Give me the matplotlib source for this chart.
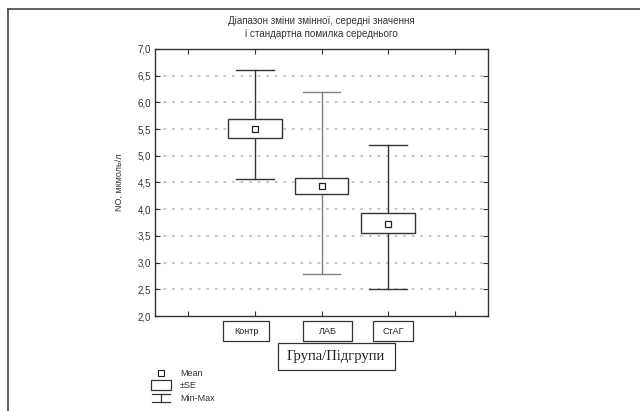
import matplotlib
matplotlib.use("Agg")
from matplotlib import pyplot as plt
from matplotlib.patches import Rectangle
from matplotlib.lines import Line2D

plt.rcParams['font.family'] = ['Liberation Sans', 'DejaVu Sans']

# дані
groups = ['Контр', 'ЛАБ', 'СтАГ']
means = [5.51, 4.44, 3.73]
se_low = [5.33, 4.29, 3.55]
se_high = [5.69, 4.59, 3.92]
mins = [4.57, 2.79, 2.51]
maxs = [6.61, 6.20, 5.20]
yticks = [2.0, 2.5, 3.0, 3.5, 4.0, 4.5, 5.0, 5.5, 6.0, 6.5, 7.0]

W, H = 640, 411
fig = plt.figure(figsize=(6.4, 4.11), dpi=100)
ax = fig.add_axes([155 / W, 1 - 316 / H, 333 / W, 267 / H])

pos = [1, 2, 3]
whisk_col = ['#333333', '#808080', '#333333']
for i, x in enumerate(pos):
    # лінія мін-макс
    ax.plot([x, x], [mins[i], maxs[i]], color=whisk_col[i], lw=1.0, zorder=3)
    ax.plot([x - 0.285, x + 0.285], [mins[i], mins[i]], color=whisk_col[i], lw=1.0, zorder=3)
    ax.plot([x - 0.285, x + 0.285], [maxs[i], maxs[i]], color=whisk_col[i], lw=1.0, zorder=3)
    # прямокутник SE
    ax.add_patch(Rectangle((x - 0.405, se_low[i]), 0.81, se_high[i] - se_low[i],
                           facecolor='white', edgecolor='#333333', lw=1.0, zorder=4))
    ax.plot(x, means[i], marker='s', ms=5, mfc='white', mec='#222222', mew=0.9, zorder=5)

for y in yticks[1:-1]:
    ax.axhline(y, color='#b8b8b8', lw=1.1, linestyle=(0, (1.8, 3.8)), zorder=1)

ax.set_xlim(-0.5, 4.5)
ax.set_ylim(2.0, 7.0)
ax.set_xticks([0, 1, 2, 3, 4])
ax.set_xticklabels([])
ax.set_yticks(yticks)
ax.set_yticklabels([('%.1f' % v).replace('.', ',') for v in yticks], fontsize=7, color='#333333')
ax.tick_params(direction='in', top=True, right=True, length=3.5, width=0.8, color='#333333', pad=3)
for s in ax.spines.values():
    s.set_color('#333333')
    s.set_linewidth(1.0)

ax.set_ylabel('NO, мкмоль/л', fontsize=6.5, color='#333333', labelpad=10)
fig.text(321 / W, 1 - 21 / H, 'Діапазон зміни змінної, середні значення',
         ha='center', va='center', fontsize=7.1, color='#333333')
fig.text(321 / W, 1 - 34 / H, 'і стандартна помилка середнього',
         ha='center', va='center', fontsize=7.1, color='#333333')

# підписи груп у рамках (ліва, права межа рамки в пікселях)
label_boxes = [(223, 269), (303, 352), (373, 413)]
for name, (x0, x1) in zip(groups, label_boxes):
    fig.add_artist(Rectangle((x0 / W, 1 - 341 / H), (x1 - x0) / W, 20 / H, transform=fig.transFigure,
                             fc='white', ec='#333333', lw=0.9))
    fig.text((x0 + x1) / 2 / W, 1 - 331 / H, name, ha='center', va='center',
             fontsize=6.5, color='#222222')

fig.add_artist(Rectangle((278 / W, 1 - 370 / H), 117 / W, 27 / H, transform=fig.transFigure,
                         fc='white', ec='#333333', lw=0.9))
fig.text(336 / W, 1 - 356 / H, 'Група/Підгрупи', ha='center', va='center',
         fontsize=10.5, family='Liberation Serif', color='#222222')

# легенда
lx = 161 / W
fig.add_artist(Line2D([lx], [1 - 373 / H], marker='s', ms=4.5, mfc='white', mec='#222222', mew=0.8,
                      transform=fig.transFigure))
fig.add_artist(Rectangle((lx - 10 / W, 1 - 390 / H), 20 / W, 10 / H, transform=fig.transFigure,
                         fc='white', ec='#333333', lw=0.9))
fig.add_artist(Line2D([lx - 9 / W, lx + 9 / W], [1 - 394 / H] * 2, color='#333333', lw=0.9,
                      transform=fig.transFigure))
fig.add_artist(Line2D([lx, lx], [1 - 394 / H, 1 - 402 / H], color='#333333', lw=0.9,
                      transform=fig.transFigure))
fig.add_artist(Line2D([lx - 9 / W, lx + 9 / W], [1 - 402 / H] * 2, color='#333333', lw=0.9,
                      transform=fig.transFigure))
for t, yy in [('Mean', 373), ('±SE', 385), ('Min-Max', 398)]:
    fig.text(180 / W, 1 - yy / H, t, fontsize=6.5, va='center', color='#333333')

# рамка зверху та зліва
fig.add_artist(Line2D([8 / W, 8 / W], [0, 1 - 9 / H], color='#444444', lw=1.2, transform=fig.transFigure))
fig.add_artist(Line2D([8 / W, 1], [1 - 9 / H] * 2, color='#444444', lw=1.2, transform=fig.transFigure))

fig.savefig('out.png', dpi=100)
